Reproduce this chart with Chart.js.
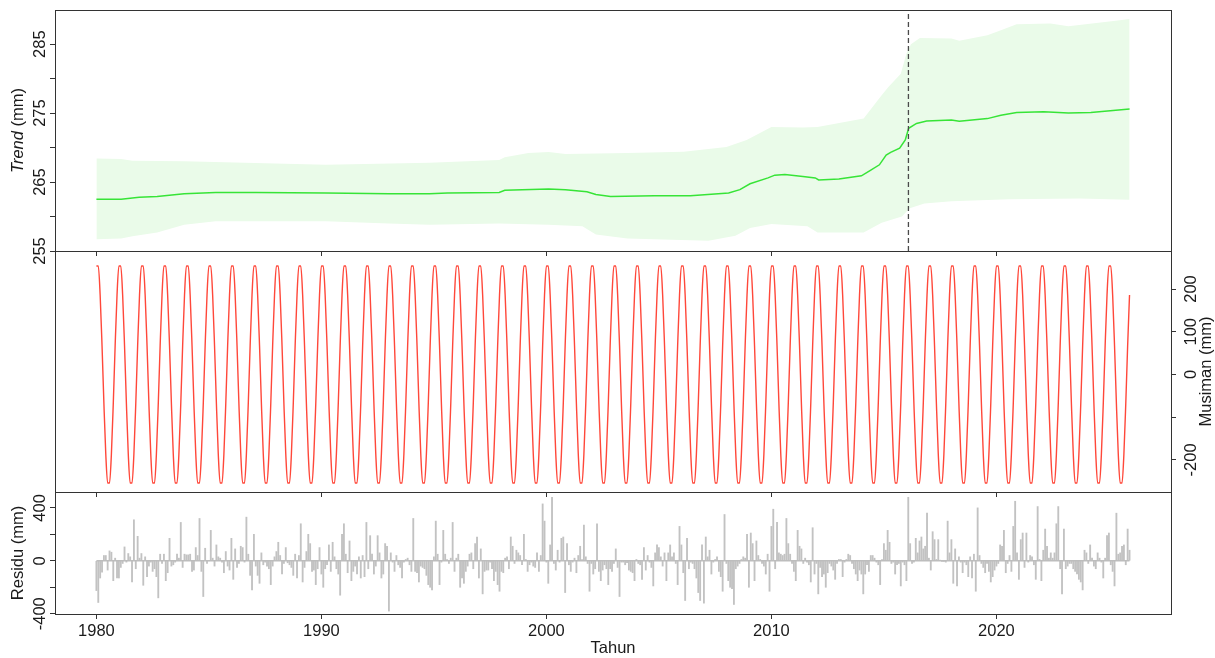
<!DOCTYPE html>
<html>
<head>
<meta charset="utf-8">
<script src="https://cdn.jsdelivr.net/npm/chart.js@4/dist/chart.umd.min.js"></script>
<style>
  html, body { margin: 0; padding: 0; background: #fff; }
  #wadah { position: relative; width: 1215px; height: 658px; }
  #wadah canvas { position: absolute; left: 0; top: 0; }
</style>
</head>
<body>
<div id="wadah">
  <canvas id="grafikTren" width="1215" height="658"></canvas>
  <canvas id="grafikMusiman" width="1215" height="658"></canvas>
  <canvas id="grafikResidu" width="1215" height="658"></canvas>
</div>
<script>
// --- data ---
let tahunTren = [1980.0, 1981.1, 1981.9, 1982.7, 1983.9, 1985.3, 1987.1, 1990.2, 1993.0, 1994.8, 1995.6, 1997.9, 1998.15,
  2000.1, 2000.85, 2001.8, 2002.2, 2002.85, 2004.8, 2006.4, 2008.1, 2008.6, 2009.05, 2009.85, 2010.15, 2010.6, 2011.4,
  2011.95, 2012.1, 2013.0, 2014.0, 2014.4, 2014.8, 2015.1, 2015.3, 2015.7, 2015.95, 2016.1, 2016.45, 2016.9, 2018.0,
  2018.35, 2019.6, 2020.2, 2020.9, 2022.1, 2023.2, 2024.2, 2025.92]
let nilaiTren = [262.5, 262.5, 262.8, 262.9, 263.3, 263.5, 263.5, 263.4, 263.3, 263.3, 263.4, 263.5, 263.8,
  264.0, 263.9, 263.6, 263.2, 262.9, 263.0, 263.0, 263.4, 263.9, 264.75, 265.6, 266.0, 266.1, 265.8,
  265.6, 265.3, 265.45, 265.9, 266.7, 267.5, 268.9, 269.3, 269.9, 271.1, 272.8, 273.5, 273.85, 274.0,
  273.8, 274.2, 274.7, 275.1, 275.2, 275.0, 275.1, 275.6]

// batas atas & bawah selang kepercayaan tren
let tahunAtas = [1980.0, 1981.1, 1981.6, 1983.9, 1990.2, 1994.8, 1997.9, 1998.15, 1999.2, 2000.1, 2000.85, 2003.6,
  2006.1, 2008.0, 2008.9, 2010.0, 2011.4, 2012.05, 2014.1, 2014.9, 2015.2, 2015.75, 2016.0, 2016.2, 2016.6,
  2018.0, 2018.35, 2019.6, 2020.2, 2020.9, 2022.4, 2023.2, 2025.3, 2025.92]
let nilaiAtas = [268.4, 268.35, 268.1, 268.0, 267.5, 267.8, 268.2, 268.6, 269.2, 269.35, 269.05, 269.2,
  269.4, 270.1, 271.1, 273.0, 272.9, 273.0, 274.2, 277.6, 278.8, 280.7, 283.6, 285.0, 285.9,
  285.8, 285.5, 286.3, 287.0, 287.9, 288.0, 287.6, 288.4, 288.65]
let tahunBawah = [1980.0, 1981.1, 1981.6, 1982.7, 1983.9, 1985.3, 1990.2, 1993.0, 1994.8, 1997.9, 2000.1, 2001.6,
  2002.2, 2003.6, 2007.2, 2008.4, 2009.05, 2010.0, 2011.6, 2012.05, 2014.1, 2014.9, 2015.8, 2016.15, 2016.8,
  2018.0, 2020.55, 2023.7, 2025.92]
let nilaiBawah = [256.7, 256.8, 257.15, 257.7, 258.8, 259.3, 259.3, 259.0, 258.8, 259.0, 258.8, 258.6,
  257.4, 256.8, 256.5, 257.2, 258.35, 258.9, 258.6, 257.7, 257.7, 259.1, 260.0, 261.2, 261.9,
  262.2, 262.5, 262.6, 262.45]

let titikPatah = 2016.09

// pola musiman bulanan (Jan..Des), sama tiap tahun
let musimanBulanan = [254, 254, 186, 68, -68, -186, -254, -254, -186, -68, 68, 186]
let tahunAwal = 1980
let tahunAkhir = 2025

// residu bulanan, satu baris per tahun 1980..2025
let residu = [
  -225, -315, -130, -85, 40, 40, -70, 75, 65, -150, 20, -130,
  -130, -50, -20, 105, -10, 55, 30, -160, 310, -60, 185, 20,
  55, -185, 30, -120, -40, -10, -80, -60, -120, -280, 50, -20,
  50, -150, -90, 170, -40, -30, -10, 50, 20, 290, -50, 50,
  45, 45, 50, -80, -70, 100, 40, 320, -80, -270, 95, -20,
  0, 230, 20, -40, 120, 30, 20, -10, -90, 70, -40, -70,
  170, -140, 90, -50, -20, 110, 100, -10, 330, 50, -110, -220,
  200, -40, -110, -170, 60, -30, -10, -40, -60, -180, -40, 30,
  70, 140, 40, -100, -20, 100, -15, -30, -50, -110, 50, -130,
  40, 280, -160, -50, 70, 200, 130, -80, -70, -180, -60, 100,
  -100, -200, -60, -30, 120, -80, 140, 30, -60, -100, -260, 200,
  280, 50, -90, 150, -150, -80, -40, -100, 30, -130, 40, -120,
  290, -60, 190, 50, -100, -40, 190, 60, -130, -100, 130, 110,
  -380, 60, -10, -80, 40, -30, -50, -130, -10, 10, 20, -30,
  -80, 320, -80, -90, -160, -40, -50, -60, -110, -180, -200, -220,
  30, 300, 50, -180, -10, 230, 50, 10, -20, 20, 290, -80,
  20, 50, -200, -130, -170, -80, -40, 50, 60, -60, 130, 180,
  -130, 90, -250, -80, -70, -70, -10, -60, -150, -80, -180, -230,
  -80, -90, 20, 30, -60, 180, 110, -20, 80, 60, 40, -30,
  200, 10, -80, -30, -10, -40, -50, 60, -80, 40, 430, 300,
  -10, -170, 120, 480, -20, -70, 80, -10, 170, 180, -240, 130,
  -30, -80, -10, 20, -90, 40, 110, 10, 270, 30, -20, -230,
  -20, -100, -60, 280, -80, -150, -70, -30, -60, -180, -60, -80,
  -20, 90, -50, -270, -10, -10, -30, -15, -70, -80, -90, -150,
  10, -20, -30, -140, 100, -70, 40, -10, -50, -190, 60, 120,
  100, 30, -40, 60, -150, 60, 120, 30, 60, -20, -180, 260,
  120, -90, -300, 170, -60, -10, -20, -60, -130, -240, -300, 120,
  -320, 180, 30, 80, -100, -10, 10, 30, -80, -120, -230, 350,
  -20, -150, -200, -210, -330, -60, -40, -20, 10, 30, 20, 200,
  -200, 210, 130, -150, 150, 40, 10, -20, -40, -100, 50, -230,
  260, 390, -60, 290, 60, 50, 40, 50, 320, 130, 50, -20,
  -80, -150, 230, 110, 90, -20, 20, -10, -30, -160, 250, -100,
  -20, -250, -50, -120, -100, -200, -90, -20, -40, -70, -140, -20,
  10, 10, -120, -10, 10, 50, 40, -20, -60, -100, -150, -70,
  -100, -250, -100, -30, -80, 40, 40, 20, -10, -30, -180, 10,
  130, 80, 230, 140, -20, -10, -100, -30, -20, -190, -10, -30,
  -150, 480, 130, -20, -10, 170, 60, 150, 180, 90, 110, 360,
  20, -70, 220, 160, 10, 160, 5, -5, -5, -10, 300, 60,
  160, -170, 90, -190, 30, -10, -90, -10, -30, -120, 30, -130,
  50, -230, 400, 40, -20, -50, -90, -20, -80, -160, -120, -70,
  -40, -20, 120, 110, 230, -90, -20, 40, -80, 260, 450, 60,
  -140, 160, 210, -50, 210, -10, 40, 30, -30, -140, 410, 10,
  -150, 80, 240, 110, 20, 60, 20, 60, 280, 410, -60, -250,
  240, -60, -40, -20, -20, -60, -80, -100, -140, -160, -220, 80,
  60, -20, 120, 20, -40, -60, 60, 20, -10, -130, 20, 190,
  210, -30, -80, -190, 360, 50, 60, 110, 120, -30, 240, 80
]

// label sumbu
let labelTren = [255, 265, 275, 285]
let labelMusiman = [-200, 0, 100, 200]
let labelResidu = [-400, 0, 400]

// --- gaya ---
let warnaTeks = '#1a1a1a'
let warnaBingkai = '#333333'
let hurufKeluarga = '"Liberation Sans", Arial, Helvetica, sans-serif'
let hurufUkuran = 16.5
let hurufCss = hurufUkuran + 'px ' + hurufKeluarga
let xMin = 1978.16, xMax = 2027.76

function pasangan(xs, ys) {
  return xs.map((x, i) => ({ x: x, y: ys[i] }))
}

let titikMusiman = []
let titikResidu = []
for (let t = tahunAwal; t <= tahunAkhir; t++) {
  for (let b = 0; b < 12; b++) {
    let i = (t - tahunAwal) * 12 + b
    titikMusiman.push({ x: t + b / 12, y: musimanBulanan[b] })
    titikResidu.push({ x: t + b / 12, y: residu[i] })
  }
}
let xPertama = tahunAwal
let xTerakhir = tahunAkhir + 11 / 12

// bingkai kotak tiap panel
const bingkai = {
  id: 'bingkai',
  afterDraw(chart) {
    const { ctx, chartArea: a } = chart
    ctx.save()
    ctx.strokeStyle = warnaBingkai
    ctx.lineWidth = 1
    ctx.strokeRect(Math.round(a.left) + 0.5, Math.round(a.top) + 0.5,
      Math.round(a.right - a.left), Math.round(a.bottom - a.top))
    ctx.restore()
  }
}

function tulisTegak(ctx, teks, x, y) {
  ctx.save()
  ctx.translate(x, y)
  ctx.rotate(-Math.PI / 2)
  ctx.fillText(teks, 0, 0)
  ctx.restore()
}

// label sumbu y ditulis tegak (gaya R)
const labelY = {
  id: 'labelY',
  afterDraw(chart, args, o) {
    const ctx = chart.ctx
    const sk = chart.scales.y
    ctx.save()
    ctx.fillStyle = warnaTeks
    ctx.textBaseline = 'middle'
    ctx.textAlign = 'center'
    ctx.font = hurufCss
    o.nilai.forEach(v => tulisTegak(ctx, String(v), o.xLabel, sk.getPixelForValue(v)))

    const tengah = (chart.chartArea.top + chart.chartArea.bottom) / 2
    let lebar = 0
    o.judul.forEach(b => {
      ctx.font = (b.miring ? 'italic ' : '') + hurufCss
      lebar += ctx.measureText(b.teks).width
    })
    ctx.translate(o.xJudul, tengah)
    ctx.rotate(-Math.PI / 2)
    ctx.textAlign = 'left'
    let x = -lebar / 2
    o.judul.forEach(b => {
      ctx.font = (b.miring ? 'italic ' : '') + hurufCss
      ctx.fillText(b.teks, x, 0)
      x += ctx.measureText(b.teks).width
    })
    ctx.restore()
  }
}

function sumbuX(tinggi, denganLabel) {
  return {
    type: 'linear', min: xMin, max: xMax, offset: false,
    afterFit: s => { s.height = tinggi },
    ticks: {
      display: denganLabel, stepSize: 10, includeBounds: false, autoSkip: false,
      maxRotation: 0, padding: 3, color: warnaTeks,
      font: { family: hurufKeluarga, size: hurufUkuran },
      callback: v => String(v)
    },
    grid: { offset: false, drawOnChartArea: false, drawTicks: true, tickLength: 5, color: warnaBingkai, tickColor: warnaBingkai },
    border: { display: false },
    title: {
      display: denganLabel, text: 'Tahun', color: warnaTeks,
      font: { family: hurufKeluarga, size: hurufUkuran }, padding: { top: 0, bottom: 0 }
    }
  }
}

function sumbuY(posisi, min, max, langkah, lebar) {
  return {
    type: 'linear', position: posisi, min: min, max: max,
    afterFit: s => { s.width = lebar },
    ticks: { display: false, stepSize: langkah, includeBounds: false },
    grid: { drawOnChartArea: false, drawTicks: true, tickLength: 5, color: warnaBingkai, tickColor: warnaBingkai },
    border: { display: false }
  }
}

const dasar = {
  responsive: false,
  animation: false,
  events: [],
  plugins: { legend: { display: false }, tooltip: { enabled: false } }
}

// panel 1: tren (order kecil = digambar paling atas)
new Chart(document.getElementById('grafikTren'), {
  type: 'line',
  data: {
    datasets: [
      { data: pasangan(tahunBawah, nilaiBawah), borderWidth: 0, pointRadius: 0, fill: false, order: 4 },
      { data: pasangan(tahunAtas, nilaiAtas), borderWidth: 0, pointRadius: 0, fill: '-1', backgroundColor: 'rgb(234,251,233)', order: 3 },
      { data: pasangan(tahunTren, nilaiTren), borderColor: 'rgb(55,228,55)', borderWidth: 1.5, pointRadius: 0, fill: false, order: 2 },
      { data: [{ x: titikPatah, y: 255 }, { x: titikPatah, y: 289.95 }], borderColor: '#4a4a4a', borderWidth: 1.3, borderDash: [5, 3], pointRadius: 0, fill: false, order: 1 }
    ]
  },
  options: {
    ...dasar,
    layout: { padding: { top: 10, left: 0, right: 44, bottom: 400 } },
    scales: {
      x: sumbuX(7, false),
      y: sumbuY('left', 255, 289.95, 5, 55)
    },
    plugins: {
      ...dasar.plugins,
      labelY: { nilai: labelTren, xLabel: 40, xJudul: 18, judul: [{ teks: 'Trend', miring: true }, { teks: ' (mm)' }] }
    }
  },
  plugins: [bingkai, labelY]
})

// panel 2: musiman
new Chart(document.getElementById('grafikMusiman'), {
  type: 'line',
  data: {
    datasets: [
      { data: titikMusiman, borderColor: 'rgb(255,72,58)', borderWidth: 1.4, pointRadius: 0, cubicInterpolationMode: 'monotone', fill: false }
    ]
  },
  options: {
    ...dasar,
    layout: { padding: { top: 251, left: 55, right: 0, bottom: 159 } },
    scales: {
      x: sumbuX(7, false),
      y: sumbuY('right', -275, 289, 100, 44)
    },
    plugins: {
      ...dasar.plugins,
      labelY: { nilai: labelMusiman, xLabel: 1191, xJudul: 1206, judul: [{ teks: 'Musiman (mm)' }] }
    }
  },
  plugins: [bingkai, labelY]
})

// panel 3: residu
new Chart(document.getElementById('grafikResidu'), {
  type: 'bar',
  data: {
    datasets: [
      { type: 'line', data: [{ x: xPertama, y: 0 }, { x: xTerakhir, y: 0 }], borderColor: '#bdbdbd', borderWidth: 1.5, pointRadius: 0, fill: false },
      { type: 'bar', data: titikResidu, backgroundColor: '#c2c2c2', barThickness: 1.2 }
    ]
  },
  options: {
    ...dasar,
    layout: { padding: { top: 492, left: 0, right: 44, bottom: 0 } },
    scales: {
      x: sumbuX(44, true),
      y: sumbuY('left', -402, 520, 200, 55)
    },
    plugins: {
      ...dasar.plugins,
      labelY: { nilai: labelResidu, xLabel: 40, xJudul: 18, judul: [{ teks: 'Residu (mm)' }] }
    }
  },
  plugins: [bingkai, labelY]
})
</script>
</body>
</html>
